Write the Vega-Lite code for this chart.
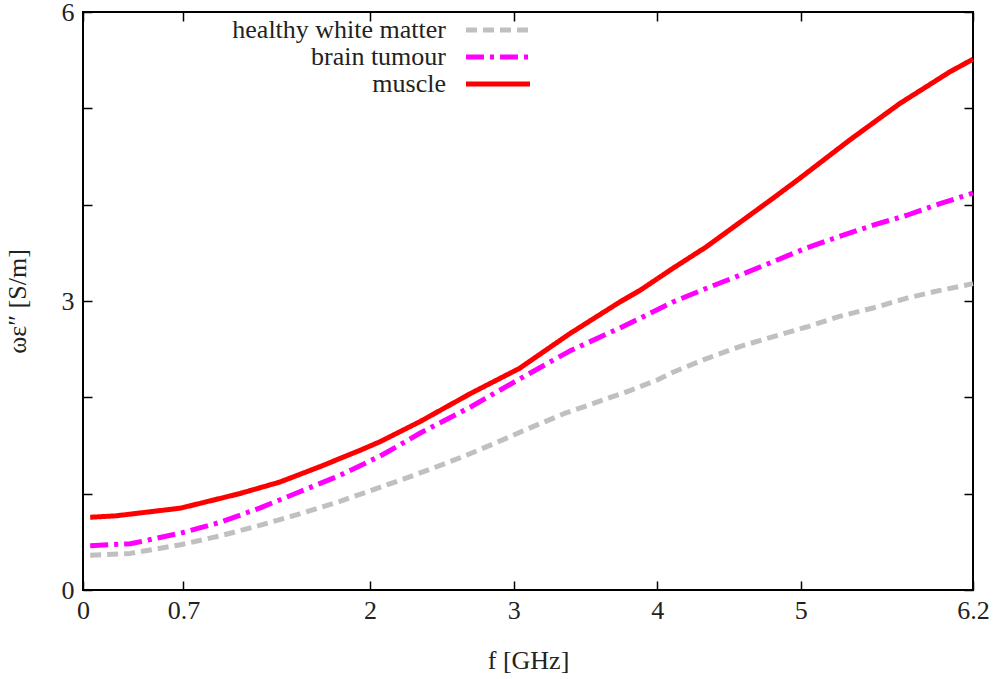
{
  "$schema": "https://vega.github.io/schema/vega-lite/v6.json",
  "width": 890,
  "height": 578,
  "autosize": {"type": "none"},
  "padding": {"left": 83, "top": 12, "right": 21, "bottom": 89},
  "config": {
    "font": "Liberation Serif",
    "view": {"stroke": "black", "strokeWidth": 2},
    "axis": {
      "grid": false,
      "domain": false,
      "tickColor": "black",
      "tickWidth": 1.5,
      "tickSize": -9,
      "labelFlush": false,
      "labelFont": "Liberation Serif",
      "labelFontSize": 26,
      "labelColor": "#222",
      "titleFont": "Liberation Serif",
      "titleFontSize": 26,
      "titleFontWeight": "normal",
      "titleColor": "#222"
    },
    "legend": {
      "padding": 0,
      "symbolType": "M-4,0H4",
      "symbolSize": 256,
      "labelAlign": "right",
      "labelOffset": -65,
      "labelLimit": 400,
      "labelFont": "Liberation Serif",
      "labelFontSize": 26,
      "labelColor": "#222",
      "rowPadding": 1
    }
  },
  "datasets": {
    "curves": [
      {"series": "healthy white matter", "f": 0.05, "v": 0.36},
      {"series": "healthy white matter", "f": 0.33, "v": 0.38},
      {"series": "healthy white matter", "f": 0.68, "v": 0.47},
      {"series": "healthy white matter", "f": 0.95, "v": 0.56},
      {"series": "healthy white matter", "f": 1.23, "v": 0.67},
      {"series": "healthy white matter", "f": 1.51, "v": 0.79},
      {"series": "healthy white matter", "f": 1.79, "v": 0.92},
      {"series": "healthy white matter", "f": 2.0, "v": 1.03},
      {"series": "healthy white matter", "f": 2.23, "v": 1.15},
      {"series": "healthy white matter", "f": 2.43, "v": 1.26},
      {"series": "healthy white matter", "f": 2.64, "v": 1.38},
      {"series": "healthy white matter", "f": 2.88, "v": 1.53},
      {"series": "healthy white matter", "f": 3.11, "v": 1.68},
      {"series": "healthy white matter", "f": 3.35, "v": 1.83},
      {"series": "healthy white matter", "f": 3.58, "v": 1.95},
      {"series": "healthy white matter", "f": 3.81, "v": 2.07},
      {"series": "healthy white matter", "f": 4.0, "v": 2.18},
      {"series": "healthy white matter", "f": 4.11, "v": 2.26},
      {"series": "healthy white matter", "f": 4.34, "v": 2.40},
      {"series": "healthy white matter", "f": 4.58, "v": 2.53},
      {"series": "healthy white matter", "f": 4.81, "v": 2.63},
      {"series": "healthy white matter", "f": 5.04, "v": 2.73},
      {"series": "healthy white matter", "f": 5.27, "v": 2.84},
      {"series": "healthy white matter", "f": 5.51, "v": 2.93},
      {"series": "healthy white matter", "f": 5.74, "v": 3.03},
      {"series": "healthy white matter", "f": 5.97, "v": 3.11},
      {"series": "healthy white matter", "f": 6.2, "v": 3.18},
      {"series": "brain tumour", "f": 0.05, "v": 0.46},
      {"series": "brain tumour", "f": 0.33, "v": 0.48},
      {"series": "brain tumour", "f": 0.68, "v": 0.59},
      {"series": "brain tumour", "f": 0.95, "v": 0.70},
      {"series": "brain tumour", "f": 1.23, "v": 0.85},
      {"series": "brain tumour", "f": 1.51, "v": 1.02},
      {"series": "brain tumour", "f": 1.79, "v": 1.19},
      {"series": "brain tumour", "f": 2.07, "v": 1.39},
      {"series": "brain tumour", "f": 2.35, "v": 1.63},
      {"series": "brain tumour", "f": 2.70, "v": 1.90},
      {"series": "brain tumour", "f": 3.04, "v": 2.19},
      {"series": "brain tumour", "f": 3.39, "v": 2.48},
      {"series": "brain tumour", "f": 3.74, "v": 2.72},
      {"series": "brain tumour", "f": 3.88, "v": 2.82},
      {"series": "brain tumour", "f": 4.11, "v": 2.99},
      {"series": "brain tumour", "f": 4.34, "v": 3.13},
      {"series": "brain tumour", "f": 4.58, "v": 3.27},
      {"series": "brain tumour", "f": 4.81, "v": 3.41},
      {"series": "brain tumour", "f": 5.04, "v": 3.55},
      {"series": "brain tumour", "f": 5.27, "v": 3.67},
      {"series": "brain tumour", "f": 5.51, "v": 3.79},
      {"series": "brain tumour", "f": 5.74, "v": 3.89},
      {"series": "brain tumour", "f": 5.97, "v": 4.01},
      {"series": "brain tumour", "f": 6.2, "v": 4.12},
      {"series": "muscle", "f": 0.05, "v": 0.755},
      {"series": "muscle", "f": 0.23, "v": 0.77},
      {"series": "muscle", "f": 0.68, "v": 0.85},
      {"series": "muscle", "f": 1.09, "v": 1.00},
      {"series": "muscle", "f": 1.37, "v": 1.12},
      {"series": "muscle", "f": 1.65, "v": 1.28},
      {"series": "muscle", "f": 1.93, "v": 1.45},
      {"series": "muscle", "f": 2.07, "v": 1.54},
      {"series": "muscle", "f": 2.35, "v": 1.75},
      {"series": "muscle", "f": 2.70, "v": 2.04},
      {"series": "muscle", "f": 3.04, "v": 2.30},
      {"series": "muscle", "f": 3.39, "v": 2.66},
      {"series": "muscle", "f": 3.74, "v": 2.99},
      {"series": "muscle", "f": 3.88, "v": 3.11},
      {"series": "muscle", "f": 4.11, "v": 3.34},
      {"series": "muscle", "f": 4.34, "v": 3.56},
      {"series": "muscle", "f": 4.58, "v": 3.82},
      {"series": "muscle", "f": 4.81, "v": 4.07},
      {"series": "muscle", "f": 4.99, "v": 4.27},
      {"series": "muscle", "f": 5.34, "v": 4.67},
      {"series": "muscle", "f": 5.69, "v": 5.05},
      {"series": "muscle", "f": 6.04, "v": 5.38},
      {"series": "muscle", "f": 6.2, "v": 5.51}
    ]
  },
  "layer": [
    {
      "data": {"name": "curves"},
      "mark": {"type": "line", "strokeCap": "butt", "strokeJoin": "round"},
      "encoding": {
        "x": {
          "field": "f", "type": "quantitative",
          "scale": {"domain": [0, 6.2], "nice": false, "zero": false},
          "axis": {"orient": "bottom", "values": [0, 0.7, 2, 3, 4, 5, 6.2], "labelExpr": "format(datum.value, '~g')", "labelPadding": 16, "title": "f [GHz]", "titlePadding": 24}
        },
        "y": {
          "field": "v", "type": "quantitative",
          "scale": {"domain": [0, 6], "nice": false},
          "axis": {"orient": "left", "values": [0, 1, 2, 3, 4, 5, 6], "labelExpr": "datum.value % 3 == 0 ? datum.label : ''", "labelPadding": 18, "title": "ωε″ [S/m]", "titlePadding": 31}
        },
        "color": {
          "field": "series", "type": "nominal",
          "scale": {"domain": ["healthy white matter", "brain tumour", "muscle"], "range": ["#c0c0c0", "#ff00ff", "#ff0000"]},
          "legend": {"title": null, "orient": "none", "legendX": 402, "legendY": 5}
        },
        "strokeDash": {
          "field": "series", "type": "nominal",
          "scale": {"domain": ["healthy white matter", "brain tumour", "muscle"], "range": [[11, 6], [18, 6, 4, 6], [1, 0]]},
          "legend": {"title": null, "orient": "none", "legendX": 402, "legendY": 5}
        },
        "strokeWidth": {
          "field": "series", "type": "nominal",
          "scale": {"domain": ["healthy white matter", "brain tumour", "muscle"], "range": [5, 5, 6]},
          "legend": {"title": null, "orient": "none", "legendX": 402, "legendY": 5}
        }
      }
    },
    {
      "data": {"name": "curves"},
      "mark": {"type": "point", "opacity": 0},
      "encoding": {
        "x": {
          "field": "f", "type": "quantitative",
          "axis": {"orient": "top", "values": [0, 0.7, 2, 3, 4, 5, 6.2], "labels": false, "title": null}
        },
        "y": {
          "field": "v", "type": "quantitative",
          "axis": {"orient": "right", "values": [0, 1, 2, 3, 4, 5, 6], "labels": false, "title": null}
        }
      }
    }
  ],
  "resolve": {"axis": {"x": "independent", "y": "independent"}}
}
